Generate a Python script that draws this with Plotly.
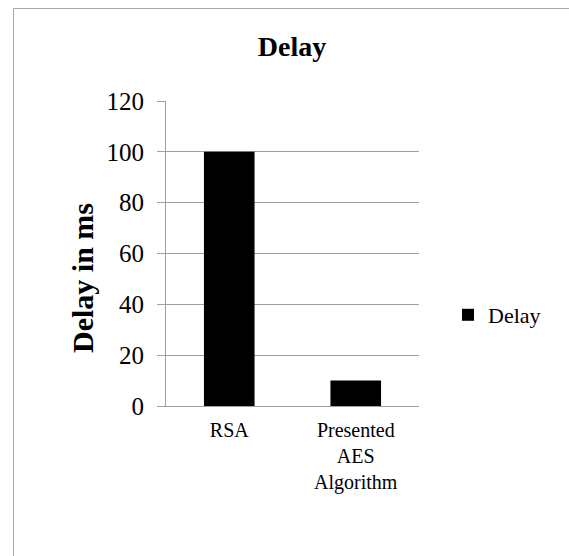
import plotly.graph_objects as go

# Chart data
categories = ["RSA", "Presented<br>AES<br>Algorithm"]
delay_ms = [100, 10]
series_name = "Delay"
y_ticks = [0, 20, 40, 60, 80, 100, 120]

FONT = "Liberation Serif"
GRID = "#a0a0a0"

W, H = 569, 556
L, R, T, B = 166, 150, 101, 150
pw, ph = W - L - R, H - T - B


def px_x(px):
    return (px - L) / pw


def px_y(py):
    return (H - B - py) / ph


fig = go.Figure()
fig.add_trace(go.Bar(
    x=categories,
    y=delay_ms,
    name=series_name,
    width=0.4,
    marker=dict(color="#000000", line=dict(width=0)),
    showlegend=True,
))

# outer frame: only the left and top edges fall inside the page
frame = dict(color="#a6a6a6", width=1)
shapes = [
    dict(type="line", xref="paper", yref="paper",
         x0=px_x(13.5), x1=px_x(13.5), y0=px_y(H), y1=px_y(8.5), line=frame),
    dict(type="line", xref="paper", yref="paper",
         x0=px_x(13.5), x1=px_x(W), y0=px_y(8.5), y1=px_y(8.5), line=frame),
]

fig.update_layout(
    width=W,
    height=H,
    margin=dict(l=L, r=R, t=T, b=B, autoexpand=False),
    paper_bgcolor="white",
    plot_bgcolor="white",
    font=dict(family=FONT, color="black"),
    title=dict(
        text="<b>Delay</b>",
        font=dict(family=FONT, size=28, color="black"),
        x=px_x(292), xref="paper", xanchor="center",
        y=1 - 46 / H, yref="container", yanchor="middle",
    ),
    showlegend=True,
    legend=dict(
        x=px_x(448), xanchor="left",
        y=px_y(315), yanchor="middle",
        font=dict(family=FONT, size=22, color="black"),
        bgcolor="rgba(0,0,0,0)",
        borderwidth=0,
    ),
    xaxis=dict(
        showline=True, linecolor=GRID, linewidth=1,
        showgrid=False, ticks="",
        tickfont=dict(family=FONT, size=20, color="black"),
        ticklabelstandoff=6,
    ),
    yaxis=dict(
        range=[0, 120],
        tickvals=y_ticks,
        showline=True, linecolor=GRID, linewidth=1,
        showgrid=True, gridcolor=GRID, gridwidth=1,
        zeroline=False,
        ticks="outside", ticklen=8, tickcolor=GRID, tickwidth=1,
        tickfont=dict(family=FONT, size=25, color="black"),
        ticklabelstandoff=8,
    ),
    annotations=[dict(
        text="<b>Delay in ms</b>",
        textangle=-90,
        x=px_x(82), xref="paper", xanchor="center",
        y=px_y(278), yref="paper", yanchor="middle",
        showarrow=False,
        font=dict(family=FONT, size=30, color="black"),
    )],
    shapes=shapes,
)

fig.write_html("out.html")
